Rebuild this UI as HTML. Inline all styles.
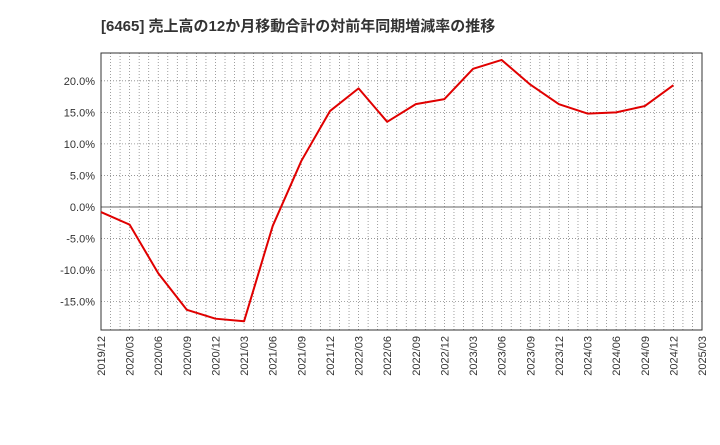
<!DOCTYPE html>
<html><head><meta charset="utf-8"><style>
body{margin:0;background:#fff;width:720px;height:440px;overflow:hidden;font-family:"Liberation Sans","Noto Sans CJK JP",sans-serif}
</style></head><body>
<svg id="c" width="720" height="440" xmlns="http://www.w3.org/2000/svg">
<text x="101" y="31" font-size="15" font-weight="bold" fill="#333" font-family="Liberation Sans, Noto Sans CJK JP, sans-serif">[6465]  売上高の12か月移動合計の対前年同期増減率の推移</text>
</svg>
<script>
const categories=["2019/12","2020/03","2020/06","2020/09","2020/12","2021/03","2021/06","2021/09","2021/12","2022/03","2022/06","2022/09","2022/12","2023/03","2023/06","2023/09","2023/12","2024/03","2024/06","2024/09","2024/12"];
const values=[-0.8,-2.8,-10.5,-16.3,-17.7,-18.1,-3.0,7.3,15.2,18.8,13.5,16.3,17.1,21.9,23.3,19.4,16.3,14.8,15.0,16.0,19.3];
const xTickLabels=["2019/12","2020/03","2020/06","2020/09","2020/12","2021/03","2021/06","2021/09","2021/12","2022/03","2022/06","2022/09","2022/12","2023/03","2023/06","2023/09","2023/12","2024/03","2024/06","2024/09","2024/12","2025/03"];
const yTicks=[-15,-10,-5,0,5,10,15,20];
const svg=document.getElementById('c');const NS="http://www.w3.org/2000/svg";
const L=101,R=702,T=53,B=330;
const xq=i=>L+i*(R-L)/21;
const y=v=>207-v*6.31;
function mk(t,a,p){const e=document.createElementNS(NS,t);for(const k in a)e.setAttribute(k,a[k]);(p||svg).appendChild(e);return e;}
// vertical monthly grid
for(let m=1;m<63;m++){const x=L+m*(R-L)/63;
const g=mk('line',{x1:x,x2:x,y1:T,y2:B,stroke:'#888','stroke-width':0.8,'stroke-dasharray':'1,2'});

}
yTicks.forEach(v=>{const yy=y(v);
const g=mk('line',{x1:L,x2:R,y1:yy,y2:yy,stroke:v===0?'#666':'#888','stroke-width':v===0?1:0.8,'stroke-dasharray':v===0?'':'1,2'});


const t=mk('text',{x:L-6,y:yy+4,'text-anchor':'end','font-size':11,fill:'#333'});t.textContent=v.toFixed(1)+'%';

});
xTickLabels.forEach((s,i)=>{const x=xq(i);
const t=mk('text',{x:x+4,y:B+6,'text-anchor':'end','font-size':11,fill:'#333',transform:`rotate(-90 ${x+4} ${B+6})`});t.textContent=s;

});
const fr=mk('rect',{x:L,y:T,width:R-L,height:B-T,fill:'none',stroke:'#333','stroke-width':1});


const p=mk('polyline',{points:values.map((v,i)=>xq(i)+','+y(v)).join(' '),fill:'none',stroke:'#e00000','stroke-width':2,'stroke-linejoin':'round'});


</script>
</body></html>
